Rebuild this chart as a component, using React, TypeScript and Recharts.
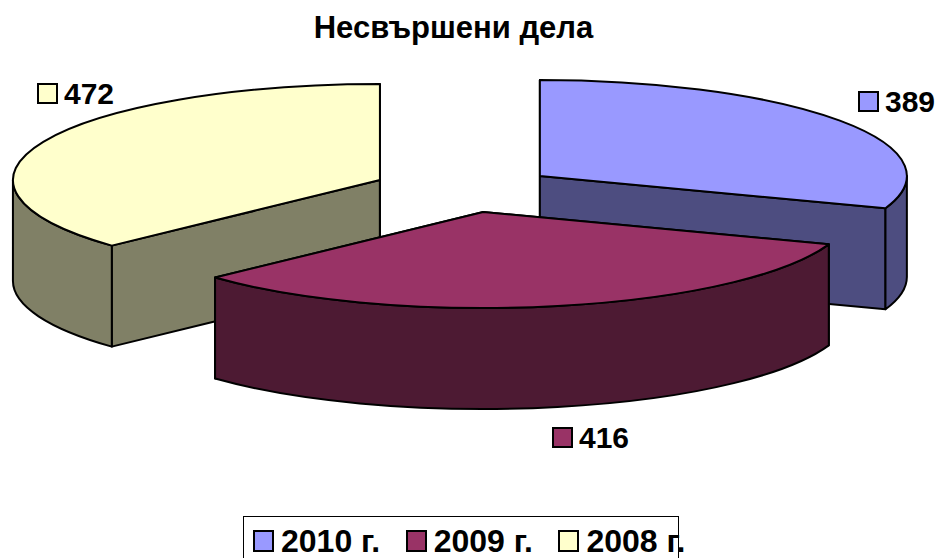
import React from "react";
import { Legend, Pie, PieChart } from "recharts";

const categories = ["2010 г.", "2009 г.", "2008 г."];
const values = [389, 416, 472];
const topColors = ["#9999FF", "#993366", "#FFFFCC"];
const sideColors = ["#4D4D80", "#4D1A33", "#808066"];
// label position relative to the pie centre, one per category
const labelOffsets = [
  [394.5, -97.3],
  [88.5, 238.7],
  [-426.5, -105.3],
];

// slices are painted back to front, the 2009 one has to end up on top
const drawOrder = [2, 0, 1];
const rows = drawOrder.map((i) => ({
  name: categories[i],
  value: values[i],
  top: topColors[i],
  side: sideColors[i],
  offset: labelOffsets[i],
}));

const total = values.reduce((a, b) => a + b, 0);
const firstAngle = 90 - (360 * (values[0] + values[1])) / total;

const FONT = "'Liberation Sans', Arial, sans-serif";
const SQUASH = 96 / 367;
const DEPTH = 101;
const EXPLODE_X = 92.2;
const EXPLODE_Y = 23.2;

const rad = (deg: number) => (deg * Math.PI) / 180;

const Slice3D = (props: any) => {
  const { cx, cy, outerRadius, startAngle, endAngle, midAngle, payload } = props;
  const ox = cx + EXPLODE_X * Math.cos(rad(midAngle));
  const oy = cy - EXPLODE_Y * Math.sin(rad(midAngle));
  const rx = outerRadius;
  const ry = outerRadius * SQUASH;
  const pt = (a: number, dy = 0) =>
    `${ox + rx * Math.cos(rad(a))} ${oy - ry * Math.sin(rad(a)) + dy}`;
  const large = (a: number, b: number) => (Math.abs(a - b) > 180 ? 1 : 0);

  const topPath = `M${ox} ${oy} L${pt(startAngle)} A${rx} ${ry} 0 ${large(startAngle, endAngle)} 1 ${pt(endAngle)} Z`;
  const face = (a: number) =>
    `M${ox} ${oy} L${pt(a)} L${pt(a, DEPTH)} L${ox} ${oy + DEPTH} Z`;

  // outer wall: only the part of the rim that faces the viewer
  const walls: string[] = [];
  for (const [hi, lo] of [
    [0, -180],
    [-360, -540],
    [360, 180],
  ]) {
    const a = Math.min(startAngle, hi);
    const b = Math.max(endAngle, lo);
    if (a > b + 0.01) {
      walls.push(
        `M${pt(a)} A${rx} ${ry} 0 ${large(a, b)} 1 ${pt(b)} L${pt(b, DEPTH)} A${rx} ${ry} 0 ${large(a, b)} 0 ${pt(a, DEPTH)} Z`,
      );
    }
  }

  const line = { stroke: "#000", strokeWidth: 2, strokeLinejoin: "round" as const };
  return (
    <g>
      <path d={face(startAngle)} fill={payload.side} {...line} />
      <path d={face(endAngle)} fill={payload.side} {...line} />
      {walls.map((d) => (
        <path key={d} d={d} fill={payload.side} {...line} />
      ))}
      <path d={topPath} fill={payload.top} {...line} />
    </g>
  );
};

const renderLabel = (props: any) => {
  const { cx, cy, payload } = props;
  const row = payload.payload ?? payload;
  const x = cx + row.offset[0];
  const y = cy + row.offset[1];
  return (
    <g>
      <rect x={x} y={y} width={19} height={19} fill={row.top} stroke="#000" strokeWidth={2} />
      <text x={x + 26} y={y + 20} fontFamily={FONT} fontWeight="bold" fontSize={30} fill="#000">
        {row.value}
      </text>
    </g>
  );
};

const legendContent = () => (
  <div
    style={{
      display: "flex",
      alignItems: "center",
      height: 50,
      boxSizing: "border-box",
      border: "1px solid #000",
      paddingLeft: 9,
      fontFamily: FONT,
      fontWeight: "bold",
      fontSize: 32,
      lineHeight: "36px",
      color: "#000",
      whiteSpace: "nowrap",
    }}
  >
    {categories.map((name, i) => (
      <span key={name} style={{ display: "flex", alignItems: "center", width: 152.7, flex: "none" }}>
        <span
          style={{
            width: 17,
            height: 18,
            marginRight: 7,
            background: topColors[i],
            border: "2px solid #000",
            display: "inline-block",
          }}
        />
        {name}
      </span>
    ))}
  </div>
);

const App = () => (
  <div style={{ position: "absolute", left: 0, top: 0, width: 936, height: 558, overflow: "hidden" }}>
    <PieChart width={936} height={558} margin={{ top: 0, right: 0, bottom: 0, left: 0 }}>
      <text
        x={453.5}
        y={38}
        textAnchor="middle"
        fontFamily={FONT}
        fontWeight="bold"
        fontSize={31}
        fill="#000"
      >
        Несвършени дела
      </text>
      <Pie
        data={rows}
        dataKey="value"
        nameKey="name"
        cx={464.5}
        cy={189.3}
        innerRadius={0}
        outerRadius={367}
        startAngle={firstAngle}
        endAngle={firstAngle - 360}
        shape={Slice3D}
        label={renderLabel}
        labelLine={false}
        stroke="none"
        isAnimationActive={false}
      />
      <Legend
        content={legendContent}
        layout="horizontal"
        wrapperStyle={{ left: 243, top: 516, width: 436, bottom: "auto" }}
      />
    </PieChart>
  </div>
);

export default App;
